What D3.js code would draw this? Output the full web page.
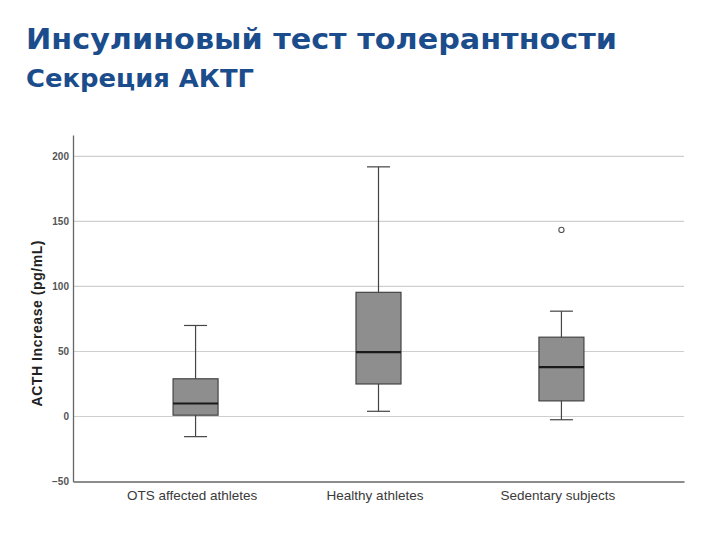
<!DOCTYPE html>
<html>
<head>
<meta charset="utf-8">
<script src="https://cdn.jsdelivr.net/npm/d3@7"></script>
<style>
  body { margin: 0; background: #fff; }
  svg { display: block; }
</style>
</head>
<body>
<div id="chart"></div>
<script>
// groups and their box-plot stats
var groups = ["OTS affected athletes", "Healthy athletes", "Sedentary subjects"];
var whiskerLow = [-15.5, 4, -2.5];
var q1 = [1, 25, 12];
var median = [10, 49.5, 38];
var q3 = [29, 95.5, 61];
var whiskerHigh = [70, 192, 81];
var outliers = [[], [], [143.5]];
var yTicks = [-50, 0, 50, 100, 150, 200];

var width = 720, height = 540;
var margin = {top: 135, right: 36, bottom: 58.5, left: 73};
var font = "Liberation Sans, Arial, sans-serif";

var svg = d3.select("#chart")
  .append("svg")
  .attr("width", width)
  .attr("height", height);

// titles
svg.append("text")
  .attr("x", 26).attr("y", 49)
  .attr("font-family", "DejaVu Sans, sans-serif")
  .attr("font-weight", "bold")
  .attr("font-size", 29)
  .attr("fill", "#1b4c8c")
  .attr("textLength", 591)
  .attr("lengthAdjust", "spacingAndGlyphs")
  .text("Инсулиновый тест толерантности");

svg.append("text")
  .attr("x", 26).attr("y", 87)
  .attr("font-family", "DejaVu Sans, sans-serif")
  .attr("font-weight", "bold")
  .attr("font-size", 24.5)
  .attr("fill", "#1b4c8c")
  .attr("textLength", 228)
  .attr("lengthAdjust", "spacingAndGlyphs")
  .text("Секреция АКТГ");

var x = d3.scalePoint()
  .domain(groups)
  .range([margin.left, width - margin.right])
  .padding(0.67);

var y = d3.scaleLinear()
  .domain([-50, 216.5])
  .range([height - margin.bottom, margin.top]);

// gridlines
svg.append("g")
  .selectAll("line")
  .data(yTicks.filter(function(d) { return d > -50; }))
  .enter()
  .append("line")
  .attr("x1", margin.left).attr("x2", width - margin.right)
  .attr("y1", function(d) { return y(d); })
  .attr("y2", function(d) { return y(d); })
  .attr("stroke", "#cfcfcf")
  .attr("stroke-width", 1.2);

// y axis
var yAxis = svg.append("g")
  .attr("transform", "translate(" + margin.left + ",0)")
  .call(d3.axisLeft(y).tickValues(yTicks).tickSize(0).tickPadding(4));
yAxis.select(".domain").attr("stroke", "#666").attr("stroke-width", 1.3);
yAxis.selectAll("text")
  .attr("font-family", font)
  .attr("font-weight", "bold")
  .attr("font-size", 10)
  .attr("fill", "#555");

// x axis
var xAxis = svg.append("g")
  .attr("transform", "translate(0," + (height - margin.bottom) + ")")
  .call(d3.axisBottom(x).tickSize(0).tickPadding(9));
xAxis.select(".domain").attr("stroke", "#666").attr("stroke-width", 1.3);
xAxis.selectAll("text")
  .attr("font-family", font)
  .attr("font-size", 13.5)
  .attr("fill", "#3a3a3a")
  .attr("dx", -4);

// y axis title
svg.append("text")
  .attr("transform", "translate(41.5,323.5) rotate(-90)")
  .attr("text-anchor", "middle")
  .attr("font-family", font)
  .attr("font-weight", "bold")
  .attr("font-size", 14)
  .attr("fill", "#222")
  .attr("textLength", 166)
  .attr("lengthAdjust", "spacing")
  .text("ACTH Increase (pg/mL)");

// boxes
var boxW = 45, capW = 23;
var box = svg.append("g")
  .selectAll("g")
  .data(groups)
  .enter()
  .append("g");

box.append("line")
  .attr("x1", function(d) { return x(d); })
  .attr("x2", function(d) { return x(d); })
  .attr("y1", function(d, i) { return y(whiskerLow[i]); })
  .attr("y2", function(d, i) { return y(whiskerHigh[i]); })
  .attr("stroke", "#444").attr("stroke-width", 1.2);

box.append("line")
  .attr("x1", function(d) { return x(d) - capW / 2; })
  .attr("x2", function(d) { return x(d) + capW / 2; })
  .attr("y1", function(d, i) { return y(whiskerLow[i]); })
  .attr("y2", function(d, i) { return y(whiskerLow[i]); })
  .attr("stroke", "#444").attr("stroke-width", 1.2);

box.append("line")
  .attr("x1", function(d) { return x(d) - capW / 2; })
  .attr("x2", function(d) { return x(d) + capW / 2; })
  .attr("y1", function(d, i) { return y(whiskerHigh[i]); })
  .attr("y2", function(d, i) { return y(whiskerHigh[i]); })
  .attr("stroke", "#444").attr("stroke-width", 1.2);

box.append("rect")
  .attr("x", function(d) { return x(d) - boxW / 2; })
  .attr("width", boxW)
  .attr("y", function(d, i) { return y(q3[i]); })
  .attr("height", function(d, i) { return y(q1[i]) - y(q3[i]); })
  .attr("fill", "#8e8e8e")
  .attr("stroke", "#444").attr("stroke-width", 1.2);

box.append("line")
  .attr("x1", function(d) { return x(d) - boxW / 2; })
  .attr("x2", function(d) { return x(d) + boxW / 2; })
  .attr("y1", function(d, i) { return y(median[i]); })
  .attr("y2", function(d, i) { return y(median[i]); })
  .attr("stroke", "#1a1a1a").attr("stroke-width", 2.2);

box.selectAll("circle")
  .data(function(d, i) { return outliers[i].map(function(v) { return {g: d, v: v}; }); })
  .enter()
  .append("circle")
  .attr("cx", function(o) { return x(o.g); })
  .attr("cy", function(o) { return y(o.v); })
  .attr("r", 2.6)
  .attr("fill", "#fff")
  .attr("stroke", "#555").attr("stroke-width", 1.1);
</script>
</body>
</html>
